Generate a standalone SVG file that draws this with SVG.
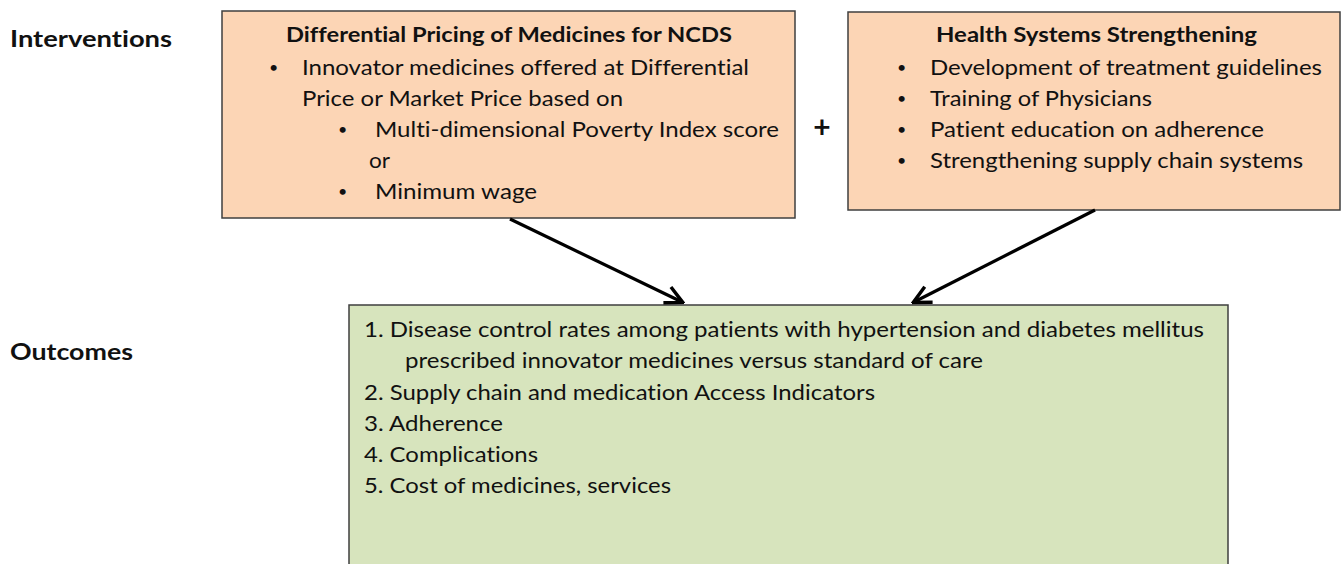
<svg xmlns="http://www.w3.org/2000/svg" width="1344" height="564" viewBox="0 0 1344 564">
<style>
text{font-family:Lato,"Open Sans","Liberation Sans",sans-serif;fill:#111;font-size:21px;font-variant-ligatures:none;font-feature-settings:"liga" 0}
.b{font-weight:bold}
.lab{font-size:23px;font-weight:bold}
.bul{font-size:16px}
.peach{fill:#FCD5B5;stroke:#3f3f3f;stroke-width:1.5}
.green{fill:#D7E4BD;stroke:#3f3f3f;stroke-width:1.5}
.conn{stroke:#000;stroke-width:3.2;fill:none;marker-end:url(#ah)}
</style>
<defs>
<marker id="ah" viewBox="0 0 12 12" refX="10.5" refY="6" markerWidth="6.5" markerHeight="6.5" orient="auto" markerUnits="strokeWidth">
<path d="M1,1 L11,6 L1,11" fill="none" stroke="#000" stroke-width="2"/>
</marker>
</defs>
<rect width="1344" height="564" fill="#fff"/>
<g id="label-interventions"><text class="lab" x="10" y="47" textLength="162" lengthAdjust="spacingAndGlyphs">Interventions</text></g>
<g id="label-outcomes"><text class="lab" x="10" y="360" textLength="123" lengthAdjust="spacingAndGlyphs">Outcomes</text></g>
<g id="node-pricing">
<rect class="peach" x="222" y="11" width="573" height="207"/>
<text class="b" x="286" y="42" textLength="446" lengthAdjust="spacingAndGlyphs">Differential Pricing of Medicines for NCDS</text>
<text class="bul" x="269" y="73">•</text>
<text x="302" y="75" textLength="447" lengthAdjust="spacingAndGlyphs">Innovator medicines offered at Differential</text>
<text x="302" y="106" textLength="321" lengthAdjust="spacingAndGlyphs">Price or Market Price based on</text>
<text class="bul" x="338" y="135">•</text>
<text x="375" y="137" textLength="404" lengthAdjust="spacingAndGlyphs">Multi-dimensional Poverty Index score</text>
<text x="369" y="168" textLength="21" lengthAdjust="spacingAndGlyphs">or</text>
<text class="bul" x="338" y="197">•</text>
<text x="375" y="199" textLength="162" lengthAdjust="spacingAndGlyphs">Minimum wage</text>
</g>
<g id="plus"><text class="b" x="822" y="138" text-anchor="middle" style="font-size:30px">+</text></g>
<g id="node-hss">
<rect class="peach" x="848" y="12" width="492" height="198"/>
<text class="b" x="936" y="42" textLength="321" lengthAdjust="spacingAndGlyphs">Health Systems Strengthening</text>
<text class="bul" x="897" y="73">•</text>
<text x="930" y="75" textLength="392" lengthAdjust="spacingAndGlyphs">Development of treatment guidelines</text>
<text class="bul" x="897" y="104">•</text>
<text x="930" y="106" textLength="222" lengthAdjust="spacingAndGlyphs">Training of Physicians</text>
<text class="bul" x="897" y="135">•</text>
<text x="930" y="137" textLength="334" lengthAdjust="spacingAndGlyphs">Patient education on adherence</text>
<text class="bul" x="897" y="166">•</text>
<text x="930" y="168" textLength="373" lengthAdjust="spacingAndGlyphs">Strengthening supply chain systems</text>
</g>
<g id="node-outcomes">
<rect class="green" x="349" y="305" width="879" height="280"/>
<text x="364" y="337" textLength="840" lengthAdjust="spacingAndGlyphs">1. Disease control rates among patients with hypertension and diabetes mellitus</text>
<text x="405" y="368" textLength="578" lengthAdjust="spacingAndGlyphs">prescribed innovator medicines versus standard of care</text>
<text x="364" y="400" textLength="511" lengthAdjust="spacingAndGlyphs">2. Supply chain and medication Access Indicators</text>
<text x="364" y="431" textLength="139" lengthAdjust="spacingAndGlyphs">3. Adherence</text>
<text x="364" y="462" textLength="174" lengthAdjust="spacingAndGlyphs">4. Complications</text>
<text x="364" y="493" textLength="307" lengthAdjust="spacingAndGlyphs">5. Cost of medicines, services</text>
</g>
<g id="connectors">
<line class="conn" x1="510" y1="219" x2="682" y2="302"/>
<line class="conn" x1="1095" y1="210" x2="914" y2="302"/>
</g>
</svg>
